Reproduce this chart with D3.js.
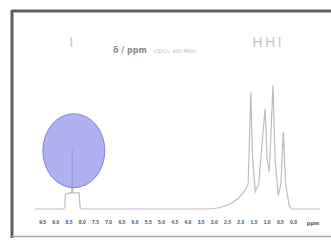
<!DOCTYPE html>
<html>
<head>
<meta charset="utf-8">
<script src="https://cdn.jsdelivr.net/npm/d3@7"></script>
<style>
  body { margin: 0; background: #fff; }
  svg { display: block; font-family: "DejaVu Sans", sans-serif; }
</style>
</head>
<body>
<svg width="331" height="240"></svg>
<script>
// spectrum: [ppm, intensity]
var shiftPpm = [9.77, 8.7, 8.64, 8.62, 8.45, 8.38, 8.36, 8.34, 8.1, 8.06, 8.0, 3.2, 2.8, 2.38, 2.1, 1.85, 1.7, 1.6, 1.53, 1.43, 1.3, 1.06, 0.98, 0.9, 0.76, 0.68, 0.56, 0.46, 0.37, 0.28, 0.15, 0.05, -1.02];
var intensity = [0, 0, 1, 12, 13, 13, 48, 13, 13, 1, 0, 0, 1, 4, 8, 14, 20, 94, 40, 14, 20, 81, 40, 30, 100, 40, 11, 20, 62, 20, 3, 0, 0];
var tickValues = [9.5, 9, 8.5, 8, 7.5, 7, 6.5, 6, 5.5, 5, 4.5, 4, 3.5, 3, 2.5, 2, 1.5, 1, 0.5, 0];
var peakLabels = [{ ppm: 8.36, text: "I" }, { ppm: 0.95, text: "HHI" }];
var highlight = { ppm: 8.3, level: 47 };

var svg = d3.select('svg');

var x = d3.scaleLinear().domain([9.77, -1.02]).range([35, 320]);
var y = d3.scaleLinear().domain([0, 100]).range([209, 85]);

// frame
svg.append('line').attr('x1', 12).attr('x2', 331).attr('y1', 11).attr('y2', 11)
   .attr('stroke', '#5e5e5e').attr('stroke-width', 3);
svg.append('line').attr('x1', 12).attr('x2', 12).attr('y1', 10).attr('y2', 238)
   .attr('stroke', '#5e5e5e').attr('stroke-width', 3);
svg.append('line').attr('x1', 12).attr('x2', 331).attr('y1', 236.5).attr('y2', 236.5)
   .attr('stroke', '#aaa').attr('stroke-width', 1.5);

// spectrum
var pts = d3.zip(shiftPpm, intensity);
var line = d3.line().x(function(d) { return x(d[0]); }).y(function(d) { return y(d[1]); });
svg.append('path').datum(pts)
   .attr('d', line)
   .attr('fill', 'none')
   .attr('stroke', '#bdbdbd')
   .attr('stroke-width', 1.2);

// highlight blob on the small peak
svg.append('ellipse')
   .attr('cx', x(highlight.ppm)).attr('cy', y(highlight.level))
   .attr('rx', 31).attr('ry', 37)
   .attr('fill', '#8f90ee').attr('fill-opacity', 0.7)
   .attr('stroke', '#6d6dcc').attr('stroke-opacity', 0.8).attr('stroke-width', 1);

// axis
var axis = d3.axisBottom(x).tickValues(tickValues).tickSize(0).tickPadding(0)
   .tickFormat(function(d) { return d3.format('.1f')(d); });
var gx = svg.append('g').attr('transform', 'translate(0,220)').call(axis);
gx.select('.domain').remove();
gx.selectAll('text').attr('font-size', 5).attr('fill', '#4a4f66').attr('font-weight', 'bold');
svg.append('text').attr('x', 313).attr('y', 225).attr('text-anchor', 'middle')
   .attr('font-size', 5).attr('font-weight', 'bold').attr('fill', '#4a4f66').text('ppm');

// labels at top
svg.selectAll('.plabel').data(peakLabels).enter().append('text')
   .attr('class', 'plabel')
   .attr('x', function(d) { return x(d.ppm); })
   .attr('y', 47).attr('text-anchor', 'middle')
   .attr('font-size', 14).attr('letter-spacing', 2).attr('fill', '#c8c8c8')
   .text(function(d) { return d.text; });

svg.append('text').attr('x', 113).attr('y', 53)
   .attr('font-size', 8).attr('font-weight', 'bold').attr('fill', '#8a8a8a').text('δ / ppm');
svg.append('text').attr('x', 153).attr('y', 53)
   .attr('font-size', 5).attr('fill', '#b5b5b5').text('(CDCl₃, 400 MHz)');
</script>
</body>
</html>
